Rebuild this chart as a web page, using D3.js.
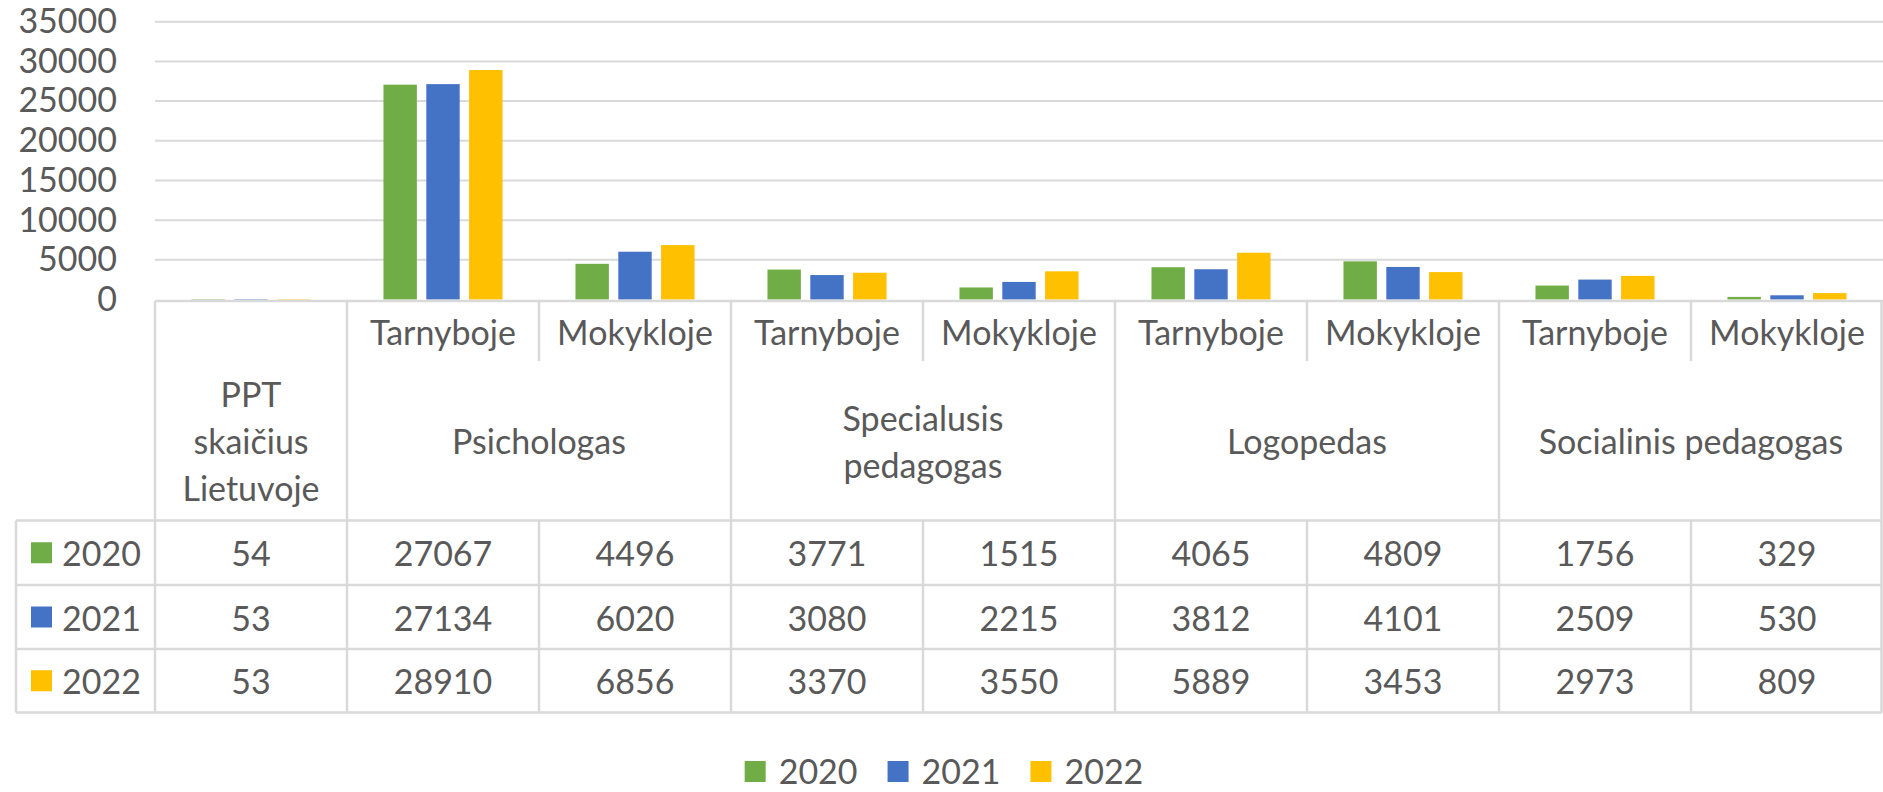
<!DOCTYPE html>
<html>
<head>
<meta charset="utf-8">
<script src="https://cdn.jsdelivr.net/npm/d3@7"></script>
<style>
  html, body { margin: 0; padding: 0; background: #ffffff; }
  svg { display: block; }
  text { font-family: Lato, "Open Sans", sans-serif; fill: #595959; }
</style>
</head>
<body>
<svg id="chart" width="1883" height="792"></svg>
<script>
// ---------- DATA ----------
const categories = [
  "PPT", "Psi-T", "Psi-M", "Spec-T", "Spec-M", "Log-T", "Log-M", "Soc-T", "Soc-M"
];
const subLabels = ["", "Tarnyboje", "Mokykloje", "Tarnyboje", "Mokykloje", "Tarnyboje", "Mokykloje", "Tarnyboje", "Mokykloje"];
const groupLabels = [
  { label: ["PPT", "skaičius", "Lietuvoje"], from: 0, to: 0 },
  { label: ["Psichologas"], from: 1, to: 2 },
  { label: ["Specialusis", "pedagogas"], from: 3, to: 4 },
  { label: ["Logopedas"], from: 5, to: 6 },
  { label: ["Socialinis pedagogas"], from: 7, to: 8 }
];
const years = ["2020", "2021", "2022"];
const values2020 = [54, 27067, 4496, 3771, 1515, 4065, 4809, 1756, 329];
const values2021 = [53, 27134, 6020, 3080, 2215, 3812, 4101, 2509, 530];
const values2022 = [53, 28910, 6856, 3370, 3550, 5889, 3453, 2973, 809];
const seriesValues = [values2020, values2021, values2022];
const colors = ["#70ad47", "#4472c4", "#ffc000"];
const yTicks = [0, 5000, 10000, 15000, 20000, 25000, 30000, 35000];

// ---------- LAYOUT ----------
const svg = d3.select("#chart");
const plotLeft = 155, plotRight = 1883;
const yZero = 299.5, yTop = 21.7;
const tableTop = 301, subRowBottom = 361, headerBottom = 520.5;
const rowLines = [520.5, 585, 649, 712.5];
const tableLeft = 16;
const fontSize = 34;
const gridColor = "#d9d9d9";

const x = d3.scaleBand().domain(categories).range([plotLeft, plotRight]).padding(0);
const bw = x.bandwidth();
const xi = d3.scaleBand().domain(years).range([bw * 0.19, bw * 0.81]).paddingInner(0.22);
const y = d3.scaleLinear().domain([0, 35000]).range([yZero, yTop]);

// gridlines
svg.append("g").selectAll("line").data(yTicks.filter(d => d > 0)).join("line")
  .attr("x1", plotLeft).attr("x2", plotRight)
  .attr("y1", d => y(d)).attr("y2", d => y(d))
  .attr("stroke", gridColor).attr("stroke-width", 2);

// y axis labels
const yAxis = d3.axisLeft(y).tickValues(yTicks).tickSize(0).tickPadding(0).tickFormat(d3.format("d"));
const gy = svg.append("g").attr("transform", "translate(117,0)").call(yAxis);
gy.select(".domain").remove();
gy.selectAll("text").attr("font-size", fontSize).attr("font-family", "Lato, sans-serif").attr("fill", "#595959");

// bars
const barData = [];
categories.forEach((c, ci) => years.forEach((yr, si) => barData.push({ c, yr, si, v: seriesValues[si][ci] })));
svg.append("g").selectAll("rect").data(barData).join("rect")
  .attr("x", d => x(d.c) + xi(d.yr))
  .attr("width", xi.bandwidth())
  .attr("y", d => y(d.v))
  .attr("height", d => yZero - y(d.v))
  .attr("fill", d => colors[d.si]);

// ---------- TABLE ----------
const tbl = svg.append("g");
const line = (x1, y1, x2, y2) => tbl.append("line").attr("x1", x1).attr("y1", y1).attr("x2", x2).attr("y2", y2)
  .attr("stroke", gridColor).attr("stroke-width", 2.5);

// top border (axis baseline)
line(plotLeft, tableTop, plotRight, tableTop);
// horizontal row lines
rowLines.forEach(ry => line(tableLeft, ry, plotRight - 1, ry));
// group vertical lines in header
const groupEdges = [plotLeft];
groupLabels.forEach(g => groupEdges.push(x(categories[g.to]) + bw));
groupEdges.forEach(gx => line(Math.min(gx, plotRight - 1.5), tableTop, Math.min(gx, plotRight - 1.5), headerBottom));
// sub dividers
groupLabels.filter(g => g.to > g.from).forEach(g => {
  const sx = x(categories[g.from]) + bw;
  line(sx, tableTop, sx, subRowBottom);
});
// data area vertical lines
const colEdges = [tableLeft, plotLeft];
categories.forEach(c => colEdges.push(x(c) + bw));
colEdges.forEach(cx => line(Math.min(cx, plotRight - 1.5), headerBottom, Math.min(cx, plotRight - 1.5), rowLines[3]));

// sub labels
tbl.selectAll("text.sub").data(categories).join("text").attr("class", "sub")
  .attr("x", d => x(d) + bw / 2).attr("y", (tableTop + subRowBottom) / 2)
  .attr("text-anchor", "middle").attr("dominant-baseline", "central")
  .attr("font-size", fontSize)
  .text((d, i) => subLabels[i]);

// group labels
const lh = 47;
groupLabels.forEach(g => {
  const cx = (x(categories[g.from]) + x(categories[g.to]) + bw) / 2;
  const cy = (subRowBottom + headerBottom) / 2;
  const n = g.label.length;
  g.label.forEach((t, k) => {
    tbl.append("text").attr("x", cx).attr("y", cy + (k - (n - 1) / 2) * lh)
      .attr("text-anchor", "middle").attr("dominant-baseline", "central")
      .attr("font-size", fontSize).text(t);
  });
});

// data rows
years.forEach((yr, si) => {
  const cy = (rowLines[si] + rowLines[si + 1]) / 2;
  tbl.append("rect").attr("x", 31).attr("y", cy - 10.5).attr("width", 21).attr("height", 21).attr("fill", colors[si]);
  tbl.append("text").attr("x", 62).attr("y", cy).attr("dominant-baseline", "central")
    .attr("font-size", fontSize).text(yr);
  categories.forEach((c, ci) => {
    tbl.append("text").attr("x", x(c) + bw / 2).attr("y", cy)
      .attr("text-anchor", "middle").attr("dominant-baseline", "central")
      .attr("font-size", fontSize).text(seriesValues[si][ci]);
  });
});

// ---------- LEGEND ----------
const leg = svg.append("g");
const legY = 770.5;
let cursor = 0;
const items = [];
years.forEach((yr, si) => {
  const g = leg.append("g");
  g.append("rect").attr("x", 0).attr("y", -9.5).attr("width", 21).attr("height", 21).attr("fill", colors[si]);
  const t = g.append("text").attr("x", 34).attr("y", 0).attr("dominant-baseline", "central")
    .attr("font-size", fontSize).text(yr);
  const w = 34 + t.node().getComputedTextLength();
  items.push({ g, off: cursor });
  cursor += w + 30;
});
const totalW = cursor - 30;
const startX = 944 - totalW / 2;
items.forEach(it => it.g.attr("transform", `translate(${startX + it.off},${legY})`));
</script>
</body>
</html>
